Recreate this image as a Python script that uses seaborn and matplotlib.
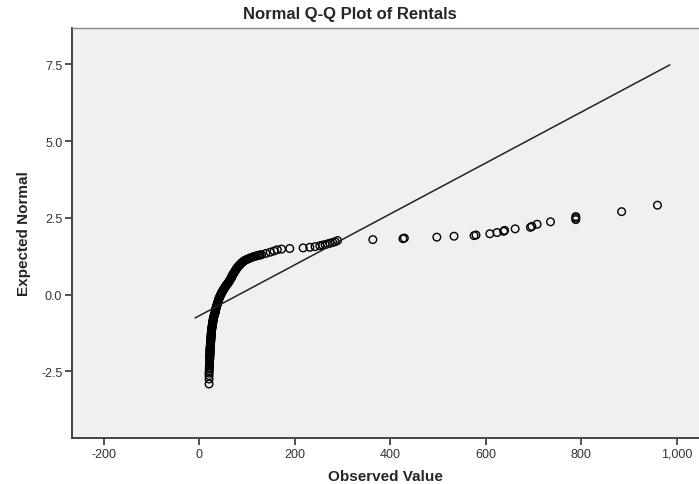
import numpy as np
import pandas as pd
import matplotlib
matplotlib.use('Agg')
import matplotlib.pyplot as plt
from matplotlib.ticker import StrMethodFormatter
import seaborn as sns

# observed rentals (x) and expected normal values (y)
observed = [21, 21, 21, 21, 21.5, 21.5, 21.5, 22, 22, 22, 22, 22, 22.5, 22.5, 22.5,
            23, 23, 23, 23, 23.5, 23.5, 24, 24, 24.5, 24.5, 25, 25, 25.5, 25.5, 26,
            26, 26.5, 27, 27.5, 28, 28.5, 29, 29.5, 30, 31, 32, 33, 34, 34.5, 35,
            36, 37, 38, 39, 40, 41, 42, 43.5, 45, 46.5, 48, 50, 52, 54, 56,
            58.5, 61, 63.5, 65, 67, 68.5, 70, 72, 74, 76, 78, 80, 83, 86, 89,
            93, 98, 104, 110, 116, 122, 128,
            131, 140, 149, 157, 164, 173, 190, 218, 232, 243, 253, 259, 264, 269,
            274, 280, 285, 290,
            364, 427, 430, 498, 534, 576, 580, 609, 624, 638, 640, 662, 694, 697,
            708, 736, 789, 789, 789, 885, 960]
expected = [-2.91, -2.75, -2.64, -2.56, -2.49, -2.43, -2.37, -2.32, -2.27, -2.22, -2.17, -2.12, -2.07, -2.02, -1.97,
            -1.92, -1.87, -1.82, -1.77, -1.72, -1.67, -1.62, -1.57, -1.52, -1.47, -1.42, -1.37, -1.32, -1.27, -1.22,
            -1.17, -1.12, -1.07, -1.02, -0.97, -0.92, -0.87, -0.82, -0.77, -0.72, -0.67, -0.62, -0.57, -0.52, -0.47,
            -0.42, -0.37, -0.32, -0.27, -0.22, -0.17, -0.12, -0.07, -0.02, 0.03, 0.08, 0.13, 0.18, 0.23, 0.28,
            0.33, 0.38, 0.43, 0.48, 0.53, 0.58, 0.63, 0.68, 0.73, 0.78, 0.83, 0.88, 0.93, 0.98, 1.03,
            1.08, 1.13, 1.17, 1.21, 1.24, 1.27, 1.29,
            1.30, 1.34, 1.38, 1.42, 1.46, 1.48, 1.50, 1.52, 1.54, 1.56, 1.59, 1.61, 1.63, 1.65,
            1.67, 1.70, 1.72, 1.76,
            1.79, 1.82, 1.84, 1.87, 1.90, 1.92, 1.94, 1.98, 2.02, 2.06, 2.09, 2.14, 2.19, 2.22,
            2.29, 2.37, 2.44, 2.49, 2.54, 2.70, 2.91]

# more cases in the dense band (overlapping circles)
observed_band = [22, 22, 22, 22, 22.5, 22.5, 22.5, 23, 23, 23, 23, 23.5, 23.5, 24, 24,
                 24.5, 24.5, 25, 25, 25.5, 25.5, 26, 26, 26.5, 27, 27.5, 28, 28.5, 29, 29.5,
                 30, 30.5, 31.5, 32.5, 33.5, 34, 35, 35.5, 36.5, 37.5, 38.5, 39.5, 40.5, 41.5, 43,
                 44, 46, 47, 49, 51, 53, 55, 57, 60, 62, 64, 66, 68, 69, 71,
                 73, 75, 77, 79, 81.5, 84.5, 87.5, 91, 95, 101, 107, 113, 119, 125]
expected_band = [-2.295, -2.245, -2.195, -2.145, -2.095, -2.045, -1.995, -1.945, -1.895, -1.845,
                 -1.795, -1.745, -1.695, -1.645, -1.595, -1.545, -1.495, -1.445, -1.395, -1.345,
                 -1.295, -1.245, -1.195, -1.145, -1.095, -1.045, -0.995, -0.945, -0.895, -0.845,
                 -0.795, -0.745, -0.695, -0.645, -0.595, -0.545, -0.495, -0.445, -0.395, -0.345,
                 -0.295, -0.245, -0.195, -0.145, -0.095, -0.045, 0.005, 0.055, 0.105, 0.155,
                 0.205, 0.255, 0.305, 0.355, 0.405, 0.455, 0.505, 0.555, 0.605, 0.655,
                 0.705, 0.755, 0.805, 0.855, 0.905, 0.955, 1.005, 1.055, 1.105, 1.15,
                 1.19, 1.225, 1.255, 1.28]

# reference line endpoints
line_x = [-8, 986]
line_y = [-0.76, 7.48]

x_ticks = [-200, 0, 200, 400, 600, 800, 1000]
y_ticks = [-2.5, 0.0, 2.5, 5.0, 7.5]

sns.set_style('ticks')
plt.rcParams['font.family'] = ['Liberation Sans', 'DejaVu Sans']
plt.rcParams['axes.unicode_minus'] = False

df = pd.DataFrame({'Observed Value': observed + observed_band,
                   'Expected Normal': expected + expected_band})

fig = plt.figure(figsize=(6.99, 4.85), dpi=100)
ax = fig.add_axes([72/699, 1 - 439/485, 1 - 72/699, 410/485])
ax.set_facecolor('#f0f0f0')

sns.lineplot(x=line_x, y=line_y, color='#222222', linewidth=1.1, ax=ax)
sns.scatterplot(data=df, x='Observed Value', y='Expected Normal', marker='o',
                facecolor='none', edgecolor='black', linewidth=1.0, s=30, ax=ax)

ax.set_xlim(-266, 1047)
ax.set_ylim(-4.67, 8.68)
ax.set_xticks(x_ticks)
ax.set_yticks(y_ticks)
ax.xaxis.set_major_formatter(StrMethodFormatter('{x:,.0f}'))
ax.yaxis.set_major_formatter(StrMethodFormatter('{x:.1f}'))
ax.tick_params(axis='both', direction='out', length=5, width=1.2, color='#333333',
               labelsize=9, labelcolor='#333333', pad=2)

for side in ['left', 'bottom']:
    ax.spines[side].set_color('#444444')
    ax.spines[side].set_linewidth(1.4)
ax.spines['top'].set_visible(True)
ax.spines['top'].set_color('#888888')
ax.spines['top'].set_linewidth(1.0)
ax.spines['right'].set_visible(False)

ax.set_xlabel('Observed Value', fontsize=11, fontweight='bold', labelpad=7)
ax.set_ylabel('Expected Normal', fontsize=11, fontweight='bold', labelpad=7)
fig.text(0.5, 1 - 14/485, 'Normal Q-Q Plot of Rentals', ha='center', va='center',
         fontsize=12, fontweight='bold')

fig.savefig('out.png', dpi=100)
